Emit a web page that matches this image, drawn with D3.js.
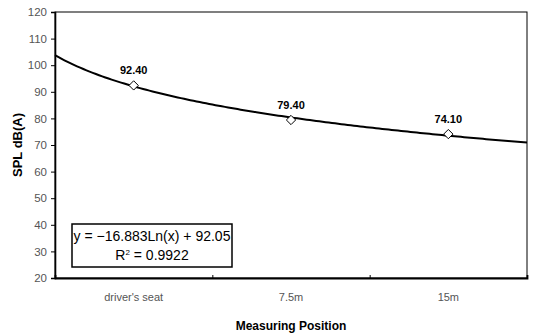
<!DOCTYPE html>
<html><head><meta charset="utf-8">
<script src="https://cdn.jsdelivr.net/npm/d3@7/dist/d3.min.js"></script>
<style>body{margin:0;background:#fff}svg{display:block}</style>
</head><body>
<svg id="c" width="538" height="335"></svg>
<script>
const categories = ["driver's seat", "7.5m", "15m"];
const values = [92.40, 79.40, 74.10];
const valueLabels = ["92.40", "79.40", "74.10"];
const yTicks = [20, 30, 40, 50, 60, 70, 80, 90, 100, 110, 120];
const trendA = -16.883, trendB = 92.05;
const eqText = "y = \u221216.883Ln(x) + 92.05";
const r2Text = "0.9922";

const svg = d3.select("#c");
const L = 55, R = 527, T = 12, B = 278;
const font = "'Liberation Sans', Arial, sans-serif";

const x = d3.scaleLinear().domain([0.5, 3.5]).range([L, R]);
const y = d3.scaleLinear().domain([20, 120]).range([B, T]);

// frame
svg.append("rect").attr("x", L).attr("y", T).attr("width", R - L).attr("height", B - T)
  .attr("fill", "none").attr("stroke", "#000").attr("stroke-width", 1);

// y axis
const ya = svg.append("g").attr("transform", `translate(${L},0)`)
  .call(d3.axisLeft(y).tickValues(yTicks).tickSize(4).tickPadding(4));
ya.select(".domain").attr("stroke", "#000").attr("stroke-width", 1.6);
ya.selectAll(".tick line").attr("stroke", "#000");
ya.selectAll("text").attr("font-family", font).attr("font-size", 11.5).attr("fill", "#555");

// x axis
const xa = svg.append("g").attr("transform", `translate(0,${B})`)
  .call(d3.axisBottom(x).tickValues([0.5, 1.5, 2.5, 3.5]).tickSize(-3).tickFormat(""));
xa.select(".domain").attr("stroke", "#000").attr("stroke-width", 1.8);
xa.selectAll(".tick line").attr("stroke", "#000");
svg.append("g").selectAll("text").data(categories).join("text")
  .attr("x", (d, i) => x(i + 1)).attr("y", B + 23)
  .attr("text-anchor", "middle").attr("font-family", font).attr("font-size", 11).attr("fill", "#555")
  .text(d => d);

// trend line
const tx = d3.range(0.5, 3.5001, 0.02);
svg.append("path").datum(tx)
  .attr("d", d3.line().x(d => x(d)).y(d => y(trendA * Math.log(d) + trendB)))
  .attr("fill", "none").attr("stroke", "#000").attr("stroke-width", 2);

// markers
svg.append("g").selectAll("path").data(values).join("path")
  .attr("transform", (d, i) => `translate(${x(i + 1)},${y(d)})`)
  .attr("d", d3.symbol(d3.symbolDiamond2, 55))
  .attr("fill", "#fff").attr("stroke", "#000").attr("stroke-width", 1);

// data labels
svg.append("g").selectAll("text").data(values).join("text")
  .attr("x", (d, i) => x(i + 1)).attr("y", d => y(d) - 11)
  .attr("text-anchor", "middle").attr("font-family", font).attr("font-size", 11)
  .attr("font-weight", "bold").attr("fill", "#000")
  .text((d, i) => valueLabels[i]);

// equation box
svg.append("rect").attr("x", 72).attr("y", 224).attr("width", 160).attr("height", 43)
  .attr("fill", "#fff").attr("stroke", "#000").attr("stroke-width", 1.5);
svg.append("text").attr("x", 152).attr("y", 241).attr("text-anchor", "middle")
  .attr("font-family", font).attr("font-size", 14).text(eqText);
const r2 = svg.append("text").attr("x", 152).attr("y", 260).attr("text-anchor", "middle")
  .attr("font-family", font).attr("font-size", 14);
r2.append("tspan").text("R");
r2.append("tspan").attr("dy", -5).attr("font-size", 8).text("2");
r2.append("tspan").attr("dy", 5).text(" = " + r2Text);

// titles
svg.append("text").attr("x", 291).attr("y", 330).attr("text-anchor", "middle")
  .attr("font-family", font).attr("font-size", 12).attr("font-weight", "bold").text("Measuring Position");
svg.append("text").attr("transform", "translate(22,145) rotate(-90)").attr("text-anchor", "middle")
  .attr("font-family", font).attr("font-size", 13).attr("font-weight", "bold").text("SPL dB(A)");
</script>
</body></html>
